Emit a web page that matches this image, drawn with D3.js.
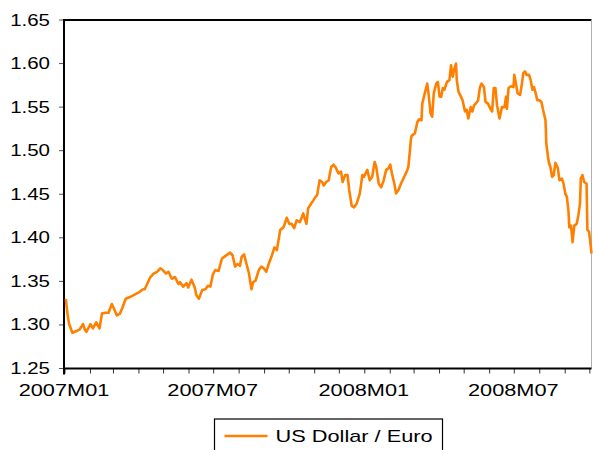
<!DOCTYPE html>
<html>
<head>
<meta charset="utf-8">
<script src="https://cdn.jsdelivr.net/npm/d3@7"></script>
<style>
	body { margin: 0; background: #fff; }
	text { font-family: Arial, 'Liberation Sans', sans-serif; fill: #000; }
</style>
</head>
<body>
<div id="chart-container"></div>
<script>
// daily US Dollar / Euro
const dates = [
	'2007-01-02', '2007-01-04', '2007-01-06', '2007-01-10', '2007-01-15', '2007-01-19', '2007-01-23', '2007-01-25',
	'2007-01-27', '2007-02-01', '2007-02-04', '2007-02-08', '2007-02-12', '2007-02-15', '2007-02-19', '2007-02-23',
	'2007-02-27', '2007-03-02', '2007-03-05', '2007-03-09', '2007-03-12', '2007-03-16', '2007-03-21', '2007-03-25',
	'2007-03-29', '2007-04-02', '2007-04-06', '2007-04-08', '2007-04-11', '2007-04-15', '2007-04-19', '2007-04-23',
	'2007-04-27', '2007-04-30', '2007-05-04', '2007-05-07', '2007-05-11', '2007-05-15', '2007-05-19', '2007-05-21',
	'2007-05-25', '2007-05-29', '2007-05-31', '2007-06-04', '2007-06-08', '2007-06-10', '2007-06-13', '2007-06-17',
	'2007-06-21', '2007-06-24', '2007-06-27', '2007-06-30', '2007-07-03', '2007-07-07', '2007-07-11', '2007-07-15',
	'2007-07-21', '2007-07-24', '2007-07-27', '2007-07-30', '2007-08-02', '2007-08-04', '2007-08-07', '2007-08-10',
	'2007-08-13', '2007-08-16', '2007-08-18', '2007-08-21', '2007-08-25', '2007-08-28', '2007-08-31', '2007-09-03',
	'2007-09-06', '2007-09-10', '2007-09-13', '2007-09-16', '2007-09-20', '2007-09-24', '2007-09-28', '2007-10-01',
	'2007-10-04', '2007-10-07', '2007-10-10', '2007-10-14', '2007-10-18', '2007-10-22', '2007-10-24', '2007-10-29',
	'2007-11-02', '2007-11-04', '2007-11-07', '2007-11-10', '2007-11-12', '2007-11-15', '2007-11-18', '2007-11-21',
	'2007-11-24', '2007-11-27', '2007-11-30', '2007-12-03', '2007-12-05', '2007-12-08', '2007-12-11', '2007-12-13',
	'2007-12-16', '2007-12-19', '2007-12-22', '2007-12-26', '2007-12-29', '2007-12-31', '2008-01-04', '2008-01-07',
	'2008-01-10', '2008-01-13', '2008-01-15', '2008-01-18', '2008-01-21', '2008-01-24', '2008-01-27', '2008-01-30',
	'2008-02-01', '2008-02-03', '2008-02-06', '2008-02-08', '2008-02-11', '2008-02-14', '2008-02-17', '2008-02-21',
	'2008-02-23', '2008-02-25', '2008-02-26', '2008-02-27', '2008-03-02', '2008-03-05', '2008-03-07', '2008-03-10',
	'2008-03-11', '2008-03-14', '2008-03-17', '2008-03-19', '2008-03-21', '2008-03-23', '2008-03-25', '2008-03-28',
	'2008-03-30', '2008-04-01', '2008-04-03', '2008-04-05', '2008-04-07', '2008-04-10', '2008-04-13', '2008-04-15',
	'2008-04-17', '2008-04-19', '2008-04-21', '2008-04-22', '2008-04-24', '2008-04-26', '2008-04-29', '2008-05-02',
	'2008-05-04', '2008-05-06', '2008-05-09', '2008-05-11', '2008-05-13', '2008-05-15', '2008-05-18', '2008-05-20',
	'2008-05-22', '2008-05-25', '2008-05-27', '2008-05-30', '2008-06-02', '2008-06-04', '2008-06-06', '2008-06-08',
	'2008-06-10', '2008-06-13', '2008-06-16', '2008-06-19', '2008-06-21', '2008-06-22', '2008-06-24', '2008-06-27',
	'2008-06-30', '2008-07-01', '2008-07-03', '2008-07-05', '2008-07-08', '2008-07-10', '2008-07-12', '2008-07-14',
	'2008-07-16', '2008-07-19', '2008-07-21', '2008-07-23', '2008-07-25', '2008-07-27', '2008-07-29', '2008-07-31',
	'2008-08-03', '2008-08-05', '2008-08-08', '2008-08-09', '2008-08-11', '2008-08-12', '2008-08-14', '2008-08-16',
	'2008-08-18', '2008-08-20', '2008-08-23', '2008-08-25', '2008-08-28', '2008-08-30', '2008-09-01', '2008-09-03',
	'2008-09-05', '2008-09-06', '2008-09-08', '2008-09-10', '2008-09-12', '2008-09-15', '2008-09-17', '2008-09-19',
	'2008-09-20', '2008-09-22', '2008-09-24', '2008-09-27', '2008-09-28', '2008-09-30', '2008-10-02', '2008-10-03'
];

const usdEur = [
	1.330, 1.313, 1.301, 1.291, 1.293, 1.295, 1.301, 1.295,
	1.292, 1.301, 1.296, 1.303, 1.296, 1.313, 1.314, 1.314,
	1.324, 1.318, 1.311, 1.313, 1.320, 1.330, 1.332, 1.334,
	1.336, 1.338, 1.341, 1.341, 1.347, 1.355, 1.359, 1.361,
	1.365, 1.363, 1.359, 1.361, 1.353, 1.355, 1.347, 1.349,
	1.344, 1.348, 1.343, 1.352, 1.343, 1.334, 1.330, 1.340,
	1.341, 1.345, 1.344, 1.358, 1.363, 1.362, 1.376, 1.379,
	1.383, 1.380, 1.367, 1.370, 1.368, 1.378, 1.381, 1.370,
	1.359, 1.341, 1.349, 1.351, 1.363, 1.367, 1.365, 1.361,
	1.370, 1.380, 1.389, 1.386, 1.409, 1.412, 1.423, 1.416,
	1.416, 1.411, 1.420, 1.418, 1.428, 1.416, 1.434, 1.441,
	1.447, 1.449, 1.466, 1.464, 1.460, 1.464, 1.466, 1.481,
	1.484, 1.480, 1.474, 1.476, 1.464, 1.472, 1.472, 1.455,
	1.437, 1.435, 1.439, 1.451, 1.472, 1.470, 1.478, 1.466,
	1.470, 1.487, 1.481, 1.462, 1.458, 1.466, 1.478, 1.480,
	1.484, 1.474, 1.462, 1.451, 1.455, 1.462, 1.468, 1.476,
	1.481, 1.501, 1.512, 1.517, 1.520, 1.533, 1.536, 1.535,
	1.554, 1.566, 1.577, 1.562, 1.543, 1.539, 1.566, 1.577,
	1.579, 1.562, 1.562, 1.572, 1.570, 1.579, 1.581, 1.598,
	1.585, 1.594, 1.600, 1.581, 1.568, 1.564, 1.558, 1.545,
	1.547, 1.537, 1.550, 1.545, 1.552, 1.554, 1.558, 1.572,
	1.577, 1.573, 1.556, 1.554, 1.548, 1.545, 1.572, 1.572,
	1.552, 1.537, 1.550, 1.550, 1.562, 1.548, 1.572, 1.574,
	1.573, 1.587, 1.577, 1.566, 1.564, 1.575, 1.589, 1.591,
	1.587, 1.587, 1.581, 1.570, 1.573, 1.566, 1.558, 1.558,
	1.556, 1.547, 1.535, 1.508, 1.493, 1.487, 1.481, 1.470,
	1.472, 1.486, 1.480, 1.466, 1.468, 1.462, 1.451, 1.447,
	1.430, 1.412, 1.414, 1.395, 1.414, 1.416, 1.426, 1.439,
	1.468, 1.472, 1.464, 1.462, 1.409, 1.407, 1.391, 1.382
];

const yTicks = [1.25, 1.30, 1.35, 1.40, 1.45, 1.50, 1.55, 1.60, 1.65];
const xLabels = ['2007M01', '2007M07', '2008M01', '2008M07'];
const seriesName = 'US Dollar / Euro';

const chartWidth = 593;
const chartHeight = 450;
const plotLeft = 64;
const plotRight = 591.5;
const plotTop = 20;
const plotBottom = 368.5;
const stretch = 1.28; // the reference text is drawn wide
const lineColor = '#ff8000';

const parseDate = d3.timeParse('%Y-%m-%d');
const series = dates.map((d, i) => ({ date: parseDate(d), value: usdEur[i] }));

const x = d3.scaleTime()
	.domain([parseDate('2007-01-01'), parseDate('2008-10-03')])
	.range([plotLeft + 1, plotRight]);

const y = d3.scaleLinear()
	.domain([1.25, 1.65])
	.range([plotBottom, plotTop]);

const svg = d3.select('#chart-container')
	.append('svg')
	.attr('width', chartWidth)
	.attr('height', chartHeight);

// frame
svg.append('line')
	.attr('x1', plotLeft).attr('x2', plotRight)
	.attr('y1', plotTop).attr('y2', plotTop)
	.attr('stroke', '#000')
	.attr('stroke-width', 2);

svg.append('line')
	.attr('x1', plotRight).attr('x2', plotRight)
	.attr('y1', plotTop).attr('y2', plotBottom)
	.attr('stroke', '#b0b0b0')
	.attr('stroke-width', 1);

// y axis
svg.selectAll('.y-tick')
	.data(yTicks)
	.enter()
	.append('line')
	.attr('class', 'y-tick')
	.attr('x1', plotLeft - 5).attr('x2', plotLeft)
	.attr('y1', (d) => y(d)).attr('y2', (d) => y(d))
	.attr('stroke', '#555')
	.attr('stroke-width', 1);

svg.selectAll('.y-label')
	.data(yTicks)
	.enter()
	.append('text')
	.attr('class', 'y-label')
	.attr('transform', (d) => `translate(50,${y(d) + 5.5}) scale(${stretch},1)`)
	.attr('text-anchor', 'end')
	.attr('font-size', 16)
	.text((d) => d3.format('.2f')(d));

// x axis, monthly ticks
const months = d3.timeMonth.range(parseDate('2007-01-01'), parseDate('2008-10-04'));

svg.selectAll('.x-tick')
	.data(months)
	.enter()
	.append('line')
	.attr('class', 'x-tick')
	.attr('x1', (d) => x(d)).attr('x2', (d) => x(d))
	.attr('y1', plotBottom).attr('y2', plotBottom + 5)
	.attr('stroke', '#333')
	.attr('stroke-width', 1);

const labelMonths = months.filter((d) => d.getMonth() % 6 === 0);

svg.selectAll('.x-label')
	.data(labelMonths)
	.enter()
	.append('text')
	.attr('class', 'x-label')
	.attr('transform', (d) => `translate(${x(d) - 1},395.5) scale(${stretch},1)`)
	.attr('text-anchor', 'middle')
	.attr('font-size', 17)
	.text((d, i) => xLabels[i]);

svg.append('line')
	.attr('x1', plotLeft).attr('x2', plotLeft)
	.attr('y1', plotTop - 1).attr('y2', plotBottom + 6)
	.attr('stroke', '#000')
	.attr('stroke-width', 2);

svg.append('line')
	.attr('x1', plotLeft).attr('x2', plotRight)
	.attr('y1', plotBottom).attr('y2', plotBottom)
	.attr('stroke', '#000')
	.attr('stroke-width', 2);

// series
const line = d3.line()
	.x((d) => x(d.date))
	.y((d) => y(d.value));

svg.append('path')
	.datum(series)
	.attr('d', line)
	.attr('fill', 'none')
	.attr('stroke', lineColor)
	.attr('stroke-width', 2.6)
	.attr('stroke-linejoin', 'round');

// legend
const legend = svg.append('g')
	.attr('transform', 'translate(214.5,419)');

legend.append('rect')
	.attr('width', 228)
	.attr('height', 40)
	.attr('fill', '#fff')
	.attr('stroke', '#000')
	.attr('stroke-width', 1.2);

legend.append('line')
	.attr('x1', 10).attr('x2', 53)
	.attr('y1', 17).attr('y2', 17)
	.attr('stroke', lineColor)
	.attr('stroke-width', 2.6);

legend.append('text')
	.attr('transform', `translate(61,23) scale(${stretch},1)`)
	.attr('font-size', 17)
	.text(seriesName);
</script>
</body>
</html>
